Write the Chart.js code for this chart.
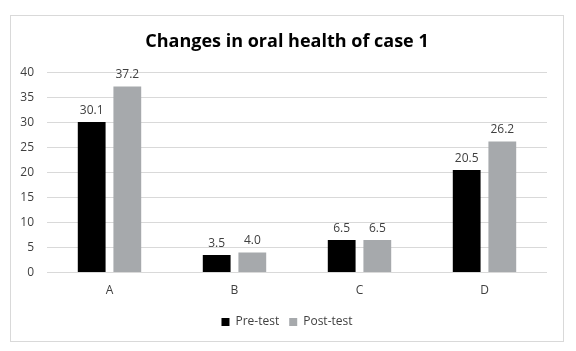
<!DOCTYPE html>
<html>
<head>
<meta charset="utf-8">
<script src="https://cdn.jsdelivr.net/npm/chart.js@4/dist/chart.umd.min.js"></script>
<style>
  html, body { margin: 0; padding: 0; background: #fff; }
  #box {
    position: absolute; left: 10px; top: 15px;
    width: 554px; height: 327px;
    box-sizing: border-box;
    border: 1px solid #d9d9d9;
  }
  #chart { display: block; }
</style>
</head>
<body>
<div id="box"><canvas id="chart" width="552" height="325"></canvas></div>
<script>
const categories = ['A', 'B', 'C', 'D'];
const preTest = [30.1, 3.5, 6.5, 20.5];
const postTest = [37.2, 4.0, 6.5, 26.2];
const yTicks = [0, 5, 10, 15, 20, 25, 30, 35, 40];

const FONT = '"Open Sans", sans-serif';
const TEXT = '#404040';

// value labels above the bars
const barLabels = {
  id: 'barLabels',
  afterDatasetsDraw(chart) {
    const ctx = chart.ctx;
    ctx.save();
    ctx.font = '12px ' + FONT;
    ctx.fillStyle = TEXT;
    ctx.textAlign = 'center';
    ctx.textBaseline = 'bottom';
    chart.data.datasets.forEach((ds, i) => {
      chart.getDatasetMeta(i).data.forEach((bar, j) => {
        ctx.fillText(ds.data[j].toFixed(1), bar.x, bar.y - 6);
      });
    });
    ctx.restore();
  }
};

const chart = new Chart(document.getElementById('chart'), {
  type: 'bar',
  data: {
    labels: categories,
    datasets: [
      { label: 'Pre-test', data: preTest, backgroundColor: '#000000' },
      { label: 'Post-test', data: postTest, backgroundColor: '#a6a9ac' }
    ]
  },
  options: {
    responsive: false,
    animation: false,
    devicePixelRatio: 1,
    layout: { padding: { left: 0, right: 0, top: 0, bottom: 3 } },
    datasets: { bar: { categoryPercentage: 0.57, barPercentage: 0.78 } },
    plugins: {
      title: {
        display: true,
        text: 'Changes in oral health of case 1',
        color: '#000',
        font: { family: FONT, size: 18, weight: 'bold' },
        padding: { top: 15, bottom: 20 }
      },
      legend: {
        position: 'bottom',
        labels: {
          boxWidth: 8, boxHeight: 8, padding: 10,
          color: TEXT,
          font: { family: FONT, size: 12 }
        }
      },
      tooltip: { enabled: false }
    },
    scales: {
      x: {
        afterFit: s => { s.height += 5; },
        grid: { display: false },
        border: { display: false },
        ticks: { color: TEXT, font: { family: FONT, size: 12 }, padding: 3 }
      },
      y: {
        min: 0, max: 40,
        afterBuildTicks: s => { s.ticks = yTicks.map(v => ({ value: v })); },
        afterFit: s => { s.width = 36; },
        grid: { color: '#d9d9d9', drawTicks: false },
        border: { display: false },
        ticks: { color: TEXT, font: { family: FONT, size: 12 }, padding: 13 }
      },
      // empty right margin so the title stays centred on the box
      yRight: {
        position: 'right',
        display: true,
        afterFit: s => { s.width = 16; },
        grid: { display: false },
        border: { display: false },
        ticks: { display: false }
      }
    }
  },
  plugins: [barLabels]
});
</script>
</body>
</html>
